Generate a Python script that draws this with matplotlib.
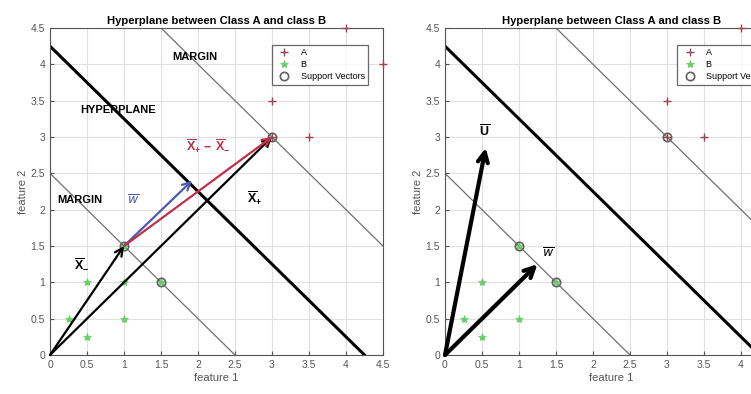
import matplotlib.pyplot as plt

plt.rcParams['font.family'] = ['Liberation Sans', 'DejaVu Sans']
plt.rcParams['mathtext.fontset'] = 'custom'
plt.rcParams['mathtext.rm'] = 'Liberation Sans'
plt.rcParams['mathtext.bf'] = 'Liberation Sans:bold'

# class points
a_x = [3, 3, 3.5, 4, 4.5]
a_y = [3, 3.5, 3, 4.5, 4]
b_x_left = [0.25, 0.5, 0.5, 1, 1, 1, 1.5]
b_y_left = [0.5, 0.25, 1, 0.5, 1, 1.5, 1]
b_x_right = [0.25, 0.5, 0.5, 1, 1, 1.5]
b_y_right = [0.5, 0.25, 1, 0.5, 1.5, 1]
sv_left_x = [3, 1, 1.5]
sv_left_y = [3, 1.5, 1]
sv_right_x = [3, 1, 1.5]
sv_right_y = [3, 1.5, 1]

# lines x + y = c
hyper_c = 4.25
margin_lo = 2.5
margin_hi = 6.0

ticks = [0, 0.5, 1, 1.5, 2, 2.5, 3, 3.5, 4, 4.5]
title = "Hyperplane between Class A and class B"

# arrows (start, end)
left_arrows = [((0, 0), (1, 1.5), 'black'),
               ((0, 0), (3, 3), 'black'),
               ((1, 1.5), (1.92, 2.4), '#4a5bb0'),
               ((1, 1.5), (3, 3), '#c0304a')]
right_arrows = [((0, 0), (0.55, 2.85)),
                ((0, 0), (1.25, 1.25))]


def draw_base(ax, bx, by, svx, svy):
    ax.plot([0, hyper_c], [hyper_c, 0], color='black', lw=2.2, zorder=2)
    ax.plot([0, margin_lo], [margin_lo, 0], color='#707070', lw=0.9, zorder=2)
    ax.plot([margin_hi - 4.5, 4.5], [4.5, margin_hi - 4.5], color='#707070', lw=0.9, zorder=2)
    ax.plot(a_x, a_y, '+', color='#a04050', ms=6, mew=1, label='A', clip_on=False, zorder=3)
    ax.plot(bx, by, '*', color='#60d060', ms=6, mew=0.5, label='B', clip_on=False, zorder=3)
    ax.plot(svx, svy, 'o', mfc='none', mec='#606060', ms=6, mew=1.2,
            label='Support Vectors', zorder=3)
    ax.set_xlim(0, 4.5)
    ax.set_ylim(0, 4.5)
    ax.set_xticks(ticks)
    ax.set_yticks(ticks)
    ax.set_xticklabels([f'{t:g}' for t in ticks])
    ax.set_yticklabels([f'{t:g}' for t in ticks])
    ax.tick_params(direction='in', labelsize=7.5, colors='#555555', length=3)
    ax.grid(True, color='#e0e0e0', lw=0.8)
    ax.set_axisbelow(True)
    for s in ax.spines.values():
        s.set_color('#555555')
    ax.set_title(title, fontsize=8.1, fontweight='bold', pad=3)
    ax.set_xlabel('feature 1', fontsize=8, color='#555555', labelpad=2)
    ax.set_ylabel('feature 2', fontsize=8, color='#555555', labelpad=2)
    leg = ax.legend(loc='upper right', fontsize=6.5,
                    frameon=True, fancybox=False, edgecolor='#444444',
                    borderpad=0.4, labelspacing=0.35, handletextpad=0.8)
    leg.get_frame().set_linewidth(0.9)
    return leg


fig = plt.figure(figsize=(7.51, 3.94), dpi=100)
ax1 = fig.add_axes([50 / 751, 1 - 355 / 394, 333 / 751, 327 / 394])
ax2 = fig.add_axes([445 / 751, 1 - 355 / 394, 333 / 751, 327 / 394])

leg1 = draw_base(ax1, b_x_left, b_y_left, sv_left_x, sv_left_y)
leg1.set_bbox_to_anchor((373 / 751, 1 - 40 / 394), transform=fig.transFigure)
leg2 = draw_base(ax2, b_x_right, b_y_right, sv_right_x, sv_right_y)
leg2.set_bbox_to_anchor((778 / 751, 1 - 40 / 394), transform=fig.transFigure)

for (x0, y0), (x1, y1), c in left_arrows:
    ax1.annotate('', xy=(x1, y1), xytext=(x0, y0),
                 arrowprops=dict(arrowstyle='->', color=c, lw=1.6,
                                 shrinkA=0, shrinkB=0, mutation_scale=14), zorder=4)
for (x0, y0), (x1, y1) in right_arrows:
    ax2.annotate('', xy=(x1, y1), xytext=(x0, y0),
                 arrowprops=dict(arrowstyle='->', color='black', lw=3,
                                 shrinkA=0, shrinkB=0, mutation_scale=18), zorder=4)

bold = dict(fontsize=8, fontweight='bold', ha='center', va='center')
ax1.text(1.96, 4.1, 'MARGIN', **bold)
ax1.text(0.92, 3.37, 'HYPERPLANE', **bold)
ax1.text(0.4, 2.13, 'MARGIN', **bold)
ax1.text(2.14, 2.88, r'$\overline{\mathbf{X}}_{\mathbf{+}}\ \mathbf{-}\ \overline{\mathbf{X}}_{\mathbf{-}}$',
         color='#c0304a', fontsize=9, ha='center', va='center')
ax1.text(1.12, 2.13, r'$\overline{\mathit{w}}$', color='#4a5bb0',
         fontsize=9, ha='center', va='center')
ax1.text(2.77, 2.16, r'$\overline{\mathbf{X}}_{\mathbf{+}}$', fontsize=9,
         ha='center', va='center')
ax1.text(0.43, 1.24, r'$\overline{\mathbf{X}}_{\mathbf{-}}$', fontsize=9,
         ha='center', va='center')

ax2.text(0.53, 3.07, r'$\overline{\mathbf{U}}$', fontsize=9, ha='center', va='center')
ax2.text(1.4, 1.4, r'$\overline{\mathit{w}}$', fontsize=9, ha='center', va='center')

fig.savefig('out.png', dpi=100)
